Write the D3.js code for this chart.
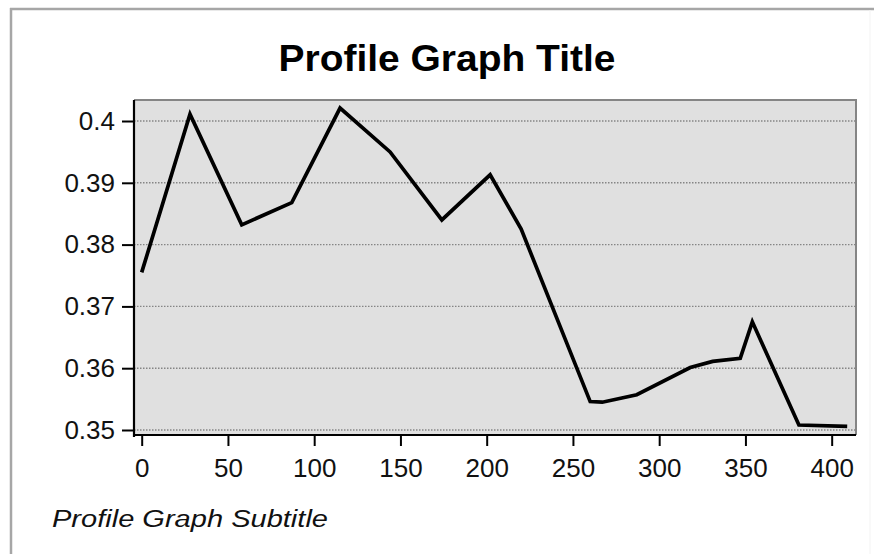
<!DOCTYPE html>
<html>
<head>
<meta charset="utf-8">
<script src="https://cdn.jsdelivr.net/npm/d3@7"></script>
<style>
  html, body { margin: 0; padding: 0; background: #ffffff; }
  svg { display: block; }
</style>
</head>
<body>
<svg id="chart" width="874" height="554"></svg>
<script>
// ---- data ----
const distances = [0, 28, 58, 87, 115, 144, 174, 202, 220, 260, 267, 287, 318, 331, 347, 354, 381, 409];
const values = [0.3755, 0.4011, 0.3832, 0.3868, 0.4021, 0.3950, 0.3840, 0.3913, 0.3825, 0.3546, 0.3545, 0.3557, 0.3601, 0.3611, 0.3616, 0.3675, 0.3508, 0.3506];
const xTicks = [0, 50, 100, 150, 200, 250, 300, 350, 400];
const xTickLabels = ["0", "50", "100", "150", "200", "250", "300", "350", "400"];
const yTicks = [0.35, 0.36, 0.37, 0.38, 0.39, 0.4];
const yTickLabels = ["0.35", "0.36", "0.37", "0.38", "0.39", "0.4"];
const titleText = "Profile Graph Title";
const subtitleText = "Profile Graph Subtitle";

// ---- layout ----
const svg = d3.select("#chart");
const plot = { left: 134, right: 856, top: 100, bottom: 435 };

const x = d3.scaleLinear().domain([-4.46, 414.1]).range([plot.left, plot.right]);
const y = d3.scaleLinear().domain([0.34919, 0.4034]).range([plot.bottom, plot.top]);

const font = "'Liberation Sans', Arial, sans-serif";

// outer frame
svg.append("line").attr("x1", 10).attr("x2", 874).attr("y1", 9).attr("y2", 9)
  .attr("stroke", "#a6a6a6").attr("stroke-width", 2.5);
svg.append("line").attr("x1", 11).attr("x2", 11).attr("y1", 8).attr("y2", 554)
  .attr("stroke", "#a6a6a6").attr("stroke-width", 2.5);
svg.append("line").attr("x1", 870).attr("x2", 870).attr("y1", 10).attr("y2", 554)
  .attr("stroke", "#f3f3f3").attr("stroke-width", 1);

// title
svg.append("text")
  .attr("x", 447).attr("y", 70.5)
  .attr("text-anchor", "middle")
  .attr("font-family", font).attr("font-weight", "bold").attr("font-size", 36)
  .attr("textLength", 337).attr("lengthAdjust", "spacingAndGlyphs")
  .attr("fill", "#000")
  .text(titleText);

// plot background
svg.append("rect")
  .attr("x", plot.left).attr("y", plot.top)
  .attr("width", plot.right - plot.left).attr("height", plot.bottom - plot.top)
  .attr("fill", "#e0e0e0");

// gridlines
svg.append("g").selectAll("line").data(yTicks).join("line")
  .attr("x1", plot.left).attr("x2", plot.right)
  .attr("y1", d => y(d)).attr("y2", d => y(d))
  .attr("stroke", "#858585").attr("stroke-width", 1.4)
  .attr("stroke-dasharray", "1.5,1.5");

// top and right border
svg.append("path")
  .attr("d", `M${plot.left},${plot.top}H${plot.right}V${plot.bottom}`)
  .attr("fill", "none").attr("stroke", "#858585").attr("stroke-width", 2);

// line
const line = d3.line().x((d, i) => x(distances[i])).y(d => y(d));
svg.append("path")
  .datum(values)
  .attr("d", line)
  .attr("fill", "none").attr("stroke", "#000").attr("stroke-width", 3.7)
  .attr("stroke-linejoin", "miter");

// axes
const yAxis = d3.axisLeft(y).tickValues(yTicks)
  .tickFormat((d, i) => yTickLabels[i]).tickSize(12).tickPadding(7).tickSizeOuter(0);
const gy = svg.append("g").attr("transform", `translate(${plot.left},0)`).call(yAxis);

const xAxis = d3.axisBottom(x).tickValues(xTicks)
  .tickFormat((d, i) => xTickLabels[i]).tickSize(11).tickPadding(13).tickSizeOuter(0);
const gx = svg.append("g").attr("transform", `translate(0,${plot.bottom})`).call(xAxis);

[gx, gy].forEach(g => {
  g.select(".domain").remove();
  g.selectAll(".tick line").attr("stroke", "#000").attr("stroke-width", 2);
  g.selectAll(".tick text").attr("font-family", font).attr("font-size", 26).attr("fill", "#111");
});

// axis lines
svg.append("line").attr("x1", plot.left).attr("x2", plot.left)
  .attr("y1", plot.top).attr("y2", plot.bottom + 2)
  .attr("stroke", "#000").attr("stroke-width", 2.2);
svg.append("line").attr("x1", plot.left - 1).attr("x2", plot.right)
  .attr("y1", plot.bottom).attr("y2", plot.bottom)
  .attr("stroke", "#000").attr("stroke-width", 2.2);

// subtitle
svg.append("text")
  .attr("x", 52).attr("y", 527)
  .attr("font-family", font).attr("font-style", "italic").attr("font-size", 23)
  .attr("textLength", 276).attr("lengthAdjust", "spacingAndGlyphs")
  .attr("fill", "#111")
  .text(subtitleText);
</script>
</body>
</html>
